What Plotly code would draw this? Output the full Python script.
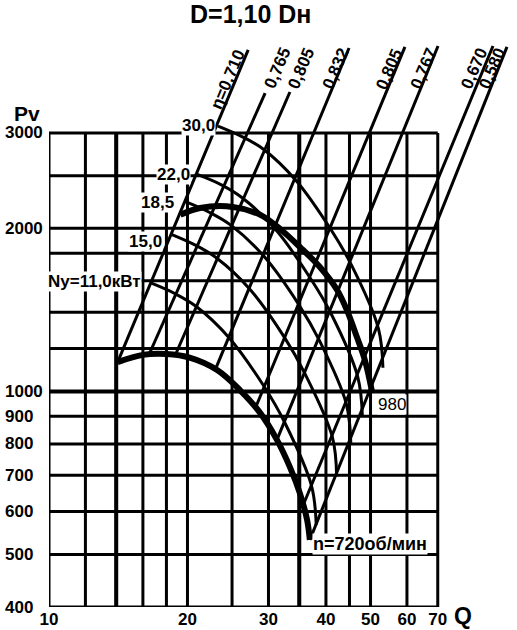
import math
import plotly.graph_objects as go

# ---------------- data ----------------
Q_GRID = [10, 12, 14, 16, 18, 20, 25, 30, 35, 40, 45, 50, 60, 70]
P_GRID = [400, 500, 600, 700, 800, 900, 1000, 1200, 1400, 1600, 1800, 2000, 2500, 3000]
Q_BOLD = [14, 35]
P_BOLD = [1000]
Q_TICKS = [10, 20, 30, 40, 50, 60, 70]
P_TICKS = [400, 500, 600, 700, 800, 900, 1000, 2000, 3000]

# fan curves (n = 720 and 980 rpm)
q720 = [14.1, 16.0, 18.0, 20.3, 23.2, 26.0, 28.8, 31.3, 33.4, 35.1, 36.4, 36.9]
p720 = [1133, 1168, 1172, 1153, 1095, 1006, 912, 814, 725, 649, 579, 532]
q980 = [19.3, 21.3, 25.1, 28.8, 31.8, 35.1, 38.8, 42.3, 44.4, 46.7, 48.6, 50.4]
p980 = [2118, 2181, 2191, 2118, 1995, 1848, 1697, 1539, 1414, 1260, 1143, 997]

# efficiency lines
eta_labels = ["η=0,710", "0,765", "0,805", "0,832", "0,805", "0,767", "0,670", "0,580"]
eta_q_low = [14.1, 16.5, 18.8, 23.0, 28.1, 31.3, 35.7, 36.9]
eta_p_low = [1133, 1170, 1165, 1098, 932, 814, 617, 532]
eta_q_high = [27.1, 29.5, 33.4, 44.9, 59.4, 70.1, 92.3, 99.0]
eta_p_high = [4270, 3555, 3571, 4306, 4325, 4343, 4343, 4325]

# installed power curves Ny, kW
ny_labels = ["30,0", "22,0", "18,5", "15,0", "Ny=11,0кВт"]
ny30_q = [23.3, 26.2, 29.2, 34.4, 41.0, 45.4, 52.0, 53.2]
ny30_p = [3090, 2958, 2803, 2454, 1990, 1714, 1308, 1106]
ny22_q = [21.0, 23.7, 26.3, 31.0, 37.0, 41.0, 46.9, 48.0]
ny22_p = [2515, 2406, 2278, 1996, 1618, 1394, 1064, 900]
ny185_q = [19.8, 22.3, 24.8, 29.3, 35.0, 38.7, 44.3, 45.3]
ny185_p = [2240, 2142, 2030, 1778, 1442, 1242, 948, 801]
ny15_q = [18.5, 20.8, 23.1, 27.3, 32.6, 36.0, 41.3, 42.2]
ny15_p = [1948, 1863, 1765, 1546, 1253, 1079, 824, 697]
ny11_q = [16.7, 18.8, 20.9, 24.6, 29.4, 32.5, 37.2, 38.1]
ny11_p = [1584, 1515, 1435, 1258, 1019, 878, 670, 567]

# ---------------- styling ----------------
FONT = "Liberation Sans, Arial, Helvetica, sans-serif"
BLACK = "#000000"
W, H = 517, 630
ML, MR, MT, MB = 49, 8, 30, 23
PX_PER_DEC_Y = 541.7
plot_h = H - MT - MB
pw = W - ML - MR
y_lo = math.log10(P_GRID[0])
y_hi = y_lo + plot_h / PX_PER_DEC_Y

fig = go.Figure()


def add_line(x, y, width, shape="linear"):
    fig.add_trace(go.Scatter(
        x=x, y=y, mode="lines",
        line=dict(color=BLACK, width=width, shape=shape, smoothing=1.0),
        hoverinfo="skip", showlegend=False))


# grid
for qs, w in ((Q_GRID, 3), (Q_BOLD, 4)):
    gx, gy = [], []
    for q in qs:
        gx += [q, q, None]
        gy += [P_GRID[0], P_GRID[-1], None]
    add_line(gx, gy, w)
for ps, w in ((P_GRID, 3), (P_BOLD, 4)):
    gx, gy = [], []
    for p in ps:
        gx += [Q_GRID[0], Q_GRID[-1], None]
        gy += [p, p, None]
    add_line(gx, gy, w)

# efficiency lines
for ql, pl, qh, ph in zip(eta_q_low, eta_p_low, eta_q_high, eta_p_high):
    add_line([ql, qh], [pl, ph], 3)

# power curves
ny_q = [ny30_q, ny22_q, ny185_q, ny15_q, ny11_q]
ny_p = [ny30_p, ny22_p, ny185_p, ny15_p, ny11_p]
for qs, ps in zip(ny_q, ny_p):
    add_line(qs, ps, 3, "spline")

# fan curves
add_line(q720, p720, 6, "spline")
add_line(q980, p980, 6, "spline")

ann = []
bold = dict(family=FONT, size=17, color=BLACK, weight=700)

# y tick labels (left aligned as in reference)
for p in P_TICKS:
    ann.append(dict(xref="paper", yref="y", x=(3 - ML) / pw, y=math.log10(p),
                    text=str(p), showarrow=False, xanchor="left", yanchor="middle",
                    font=bold))

# efficiency labels
eta_shift = [(-20, 30), (12, -25), (12, -24), (-13, 21), (-15, 22), (-14, 23), (-18, 22), (-14, 21)]
for lab, qh, ph, (dx, dy) in zip(eta_labels, eta_q_high, eta_p_high, eta_shift):
    ann.append(dict(x=math.log10(qh), y=math.log10(ph), text=lab, showarrow=False,
                    textangle=-67, xshift=dx, yshift=-dy,
                    xanchor="center", yanchor="middle",
                    font=dict(family=FONT, size=17, color=BLACK, weight=700)))

# power labels
ny_shift = [(-2, 1), (-6, 0), (-10, -1), (-9, -7), (-9, 2)]
for lab, qs, ps, (dx, dy) in zip(ny_labels, ny_q, ny_p, ny_shift):
    ann.append(dict(x=math.log10(qs[0]), y=math.log10(ps[0]), text=lab, showarrow=False,
                    xanchor="right", yanchor="middle", xshift=dx, yshift=dy,
                    bgcolor="white", borderpad=0,
                    font=dict(family=FONT, size=17, color=BLACK, weight=700)))

# speed labels
ann.append(dict(x=math.log10(q980[-1]), y=math.log10(p980[-1]), text="980", showarrow=False,
                xanchor="left", yanchor="middle", xshift=5, yshift=-12,
                bgcolor="white", borderpad=0,
                font=dict(family=FONT, size=17, color=BLACK)))
ann.append(dict(x=math.log10(q720[-1]), y=math.log10(p720[-1]), text="n=720об/мин", showarrow=False,
                xanchor="left", yanchor="middle", xshift=2, yshift=-4,
                bgcolor="white", borderpad=0,
                font=dict(family=FONT, size=18, color=BLACK, weight=700)))

# axis titles and chart title
ann.append(dict(xref="paper", yref="paper", x=(27 - ML) / pw, y=(H - MB - 113) / plot_h,
                xanchor="center", yanchor="middle",
                text="Pv", showarrow=False, font=dict(family=FONT, size=21, color=BLACK, weight=700)))
ann.append(dict(xref="paper", yref="paper", x=(463 - ML) / pw, y=(H - MB - 616) / plot_h,
                xanchor="center", yanchor="middle",
                text="Q", showarrow=False, font=dict(family=FONT, size=23, color=BLACK, weight=700)))
ann.append(dict(xref="paper", yref="paper", x=(250 - ML) / pw, y=(H - MB - 14) / plot_h,
                xanchor="center", yanchor="middle",
                text="D=1,10 Dн", showarrow=False, font=dict(family=FONT, size=25, color=BLACK, weight=700)))

fig.update_layout(
    template="none",
    width=W, height=H, autosize=False,
    margin=dict(l=ML, r=MR, t=MT, b=MB, pad=0, autoexpand=False),
    paper_bgcolor="white", plot_bgcolor="white",
    showlegend=False,
    annotations=ann,
    xaxis=dict(type="log", range=[1, 2], showgrid=False, zeroline=False, showline=False,
               automargin=False,
               tickmode="array", tickvals=Q_TICKS, ticktext=[str(v) for v in Q_TICKS],
               ticks="", tickfont=dict(family=FONT, size=17, color=BLACK, weight=700)),
    yaxis=dict(type="log", range=[y_lo, y_hi], showgrid=False, zeroline=False, showline=False,
               automargin=False, showticklabels=False, ticks=""),
)

fig.write_html("out.html", config={"displayModeBar": False},
               post_script="document.body.style.margin='0';document.body.style.overflow='hidden';")
